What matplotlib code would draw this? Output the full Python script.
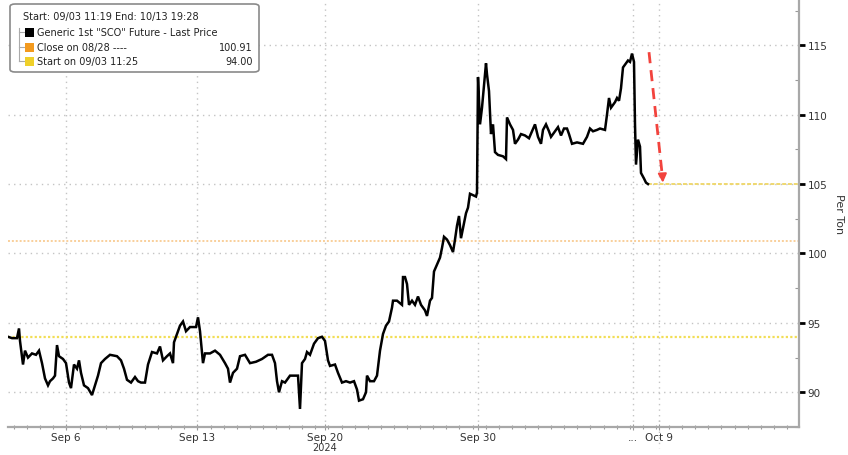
import matplotlib
matplotlib.use("Agg")
import matplotlib.pyplot as plt
from matplotlib.patches import FancyBboxPatch, Rectangle
from matplotlib.lines import Line2D
import numpy as np

# ---- data: intraday bar index vs price ----
bar = [0, 4, 9, 11, 12, 15, 17, 20, 24, 28, 31, 34, 37, 40, 42, 45, 47, 49, 51, 55,
       58, 61, 63, 66, 69, 71, 73, 76, 80, 84, 87, 90, 93, 97, 102, 109, 113, 116, 119,
       123, 127, 130, 133, 137, 140, 144, 149, 152, 155, 159, 162, 165, 166, 169, 172,
       175, 178, 182, 188, 190, 192, 195, 197, 202, 207, 212, 217, 220, 222, 225, 229,
       232, 237, 242, 248, 254, 260, 264, 267, 269, 271, 274, 277, 282, 287, 290, 292,
       294, 297, 299, 302, 306, 310, 314, 317, 319, 320, 322, 327, 330, 334, 338, 342,
       346, 349, 351, 355, 358, 359, 362, 366, 369, 372, 375, 378, 381, 384, 385, 389,
       394, 395, 397, 399, 401, 404, 407, 410, 413, 417, 419, 422, 424, 426, 429, 432,
       434, 436, 439, 442, 445, 447, 449, 451, 453, 456, 458, 460, 462, 465, 468, 469,
       470, 472, 474, 476, 478, 479, 481, 483, 485, 487, 490, 495, 498, 499, 502, 505,
       507, 510, 513, 517, 521, 524, 527, 530, 533, 535, 538, 541, 543, 547, 550, 553,
       556, 559, 561, 564, 569, 575, 579, 582, 585, 589, 592, 597, 599, 601, 603, 605,
       607, 609, 611, 613, 615, 618, 620, 622, 624, 626, 627, 628, 630, 632, 633, 636,
       638, 640]
price = [94.0, 93.9, 93.9, 94.6, 93.7, 92.0, 93.0, 92.5, 92.8, 92.7, 93.0, 92.1, 91.0,
         90.5, 90.8, 91.0, 91.2, 93.4, 92.6, 92.4, 92.1, 90.7, 90.3, 92.0, 91.7, 92.3,
         91.4, 90.5, 90.3, 89.8, 90.5, 91.2, 92.1, 92.4, 92.7, 92.6, 92.3, 91.7, 90.9,
         90.7, 91.1, 90.8, 90.7, 90.7, 92.0, 92.9, 92.8, 93.3, 92.3, 92.6, 92.8, 92.1,
         93.6, 94.2, 94.8, 95.1, 94.4, 94.7, 94.7, 95.4, 94.4, 92.1, 92.8, 92.8, 93.0,
         92.7, 92.1, 91.7, 90.7, 91.4, 91.7, 92.6, 92.7, 92.1, 92.2, 92.4, 92.7, 92.7,
         92.1, 90.8, 90.0, 90.8, 90.7, 91.2, 91.2, 91.2, 88.8, 92.1, 92.4, 92.9, 92.7,
         93.5, 93.9, 94.0, 93.7, 92.8, 92.3, 91.9, 92.0, 91.4, 90.7, 90.8, 90.7, 90.8,
         90.2, 89.4, 89.5, 90.0, 91.2, 90.8, 90.8, 91.2, 93.0, 94.2, 94.8, 95.1, 96.1,
         96.6, 96.6, 96.3, 98.3, 98.3, 97.8, 96.3, 96.6, 96.3, 96.9, 96.3, 95.9, 95.5,
         96.6, 96.8, 98.7, 99.2, 99.7, 100.4, 101.2, 101.0, 100.6, 100.1, 101.0, 102.0,
         102.7, 101.1, 102.2, 102.9, 103.3, 104.3, 104.2, 104.1, 104.4, 112.7, 109.3,
         110.5, 112.1, 113.7, 112.9, 111.7, 108.6, 109.3, 107.3, 107.1, 107.0, 106.8,
         109.8, 109.3, 108.9, 107.9, 108.2, 108.6, 108.5, 108.3, 108.8, 109.3, 108.4,
         107.9, 108.9, 109.3, 108.8, 108.4, 108.8, 109.1, 108.5, 109.0, 109.0, 108.6,
         107.9, 108.0, 107.9, 108.4, 109.0, 108.8, 108.9, 109.0, 108.9, 110.0, 111.2,
         110.5, 110.7, 110.9, 111.2, 111.0, 111.9, 113.4, 113.7, 113.9, 113.8, 114.4,
         113.8, 109.3, 106.4, 108.2, 107.7, 105.8, 105.4, 105.1, 105.0]

close_0828 = 100.91
start_0903 = 94.00
last_price = 105.0
arrow_from = (641, 114.5)
arrow_to = (655, 104.9)

tick_bars = [58, 189, 317, 470, 625, 651]
tick_labels = ["Sep 6", "Sep 13", "Sep 20", "Sep 30", "...", "Oct 9"]
year_label = "2024"
y_ticks = [90, 95, 100, 105, 110, 115]

legend_title = "Start: 09/03 11:19 End: 10/13 19:28"
legend_rows = [('Generic 1st "SCO" Future - Last Price', "", "#000000"),
               ("Close on 08/28 ----", "100.91", "#F39A1E"),
               ("Start on 09/03 11:25", "94.00", "#EFD02A")]

W, H = 848, 456
fig = plt.figure(figsize=(W / 100, H / 100), dpi=100)
ax = fig.add_axes([8 / W, 28 / H, 791 / W, 428 / H])
ax.set_xlim(0, 791)
ax.set_ylim(87.98, 118.33)

dot = (0, (1, 3))
for yv in y_ticks:
    ax.axhline(yv, color="#c4c4c4", lw=1.0, ls=dot, zorder=1)
for xv in tick_bars:
    ax.axvline(xv, color="#c4c4c4", lw=1.0, ls=dot, zorder=1)

ax.axhline(close_0828, color="#F9CF9A", lw=1.4, ls=(0, (1, 1)), zorder=2)
ax.axhline(start_0903, color="#F2DE55", lw=1.6, ls=(0, (1, 1)), zorder=2)
ax.plot([bar[-1], 791], [last_price, last_price], color="#EFD870", lw=1.4,
        ls=(0, (2, 1)), zorder=2)

ax.plot(bar, price, color="black", lw=1.8, zorder=4, solid_joinstyle="miter")

# red dashed arrow
ax.plot([arrow_from[0], arrow_to[0] - 0.4], [arrow_from[1], arrow_to[1] + 0.5],
        color="#F2433D", lw=2.0, ls=(0, (4, 2.5)), zorder=5)
ax.annotate("", xy=arrow_to, xytext=(arrow_to[0] - 0.6, arrow_to[1] + 0.8),
            arrowprops=dict(arrowstyle="-|>,head_length=0.5,head_width=0.25",
                            color="#F2433D", lw=1.5), zorder=5)

for s in ["top", "left"]:
    ax.spines[s].set_visible(False)
ax.spines["right"].set_color("#a8a8a8")
ax.spines["right"].set_linewidth(1.6)
ax.spines["bottom"].set_color("#a8a8a8")
ax.spines["bottom"].set_linewidth(1.6)

ax.yaxis.tick_right()
ax.set_yticks(y_ticks)
ax.set_yticklabels([str(v) for v in y_ticks])
ax.set_yticks(np.arange(87.5, 118.3, 2.5), minor=True)
ax.tick_params(axis="y", which="major", direction="out", length=4, width=2,
               color="black", labelsize=7.5, labelcolor="#333333", pad=2)
ax.tick_params(axis="y", which="minor", direction="in", length=3, width=0.8,
               color="#999999")
ax.yaxis.set_label_position("right")
ax.set_ylabel("Per Ton", rotation=270, labelpad=12, fontsize=8, color="#333333")

ax.set_xticks(tick_bars)
ax.set_xticklabels(tick_labels)
ax.set_xticks(np.arange(6, 791, 13.1), minor=True)
ax.tick_params(axis="x", which="major", direction="inout", length=5, width=0.8,
               color="#999999", labelsize=7.5, labelcolor="#333333", pad=1)
ax.tick_params(axis="x", which="minor", direction="inout", length=3, width=0.8,
               color="#999999")
ax.text(tick_bars[2], -20 / 428, year_label, transform=ax.get_xaxis_transform(),
        ha="center", va="center", fontsize=7, color="#333333")
ax.plot([tick_bars[5], tick_bars[5]], [87.98, 86.0], color="#c4c4c4", lw=1.0,
        ls=dot, clip_on=False)

# legend box (figure pixel coordinates -> fractions)
def fx(x):
    return x / W

def fy(y):
    return 1 - y / H

box = FancyBboxPatch((fx(10), fy(73)), fx(249), 68 / H,
                     boxstyle="round,pad=0,rounding_size=0.006",
                     transform=fig.transFigure, facecolor="white",
                     edgecolor="#8a8a8a", lw=1.2, zorder=10)
fig.patches.append(box)
fig.text(fx(23), fy(17), legend_title, fontsize=7, color="#222222",
         va="center", ha="left", zorder=11)
row_y = [33, 48, 62]
fig.lines.append(Line2D([fx(19), fx(19)], [fy(29), fy(62)], color="#aaaaaa",
                        lw=0.8, transform=fig.transFigure, zorder=11))
for (lab, val, col), yy in zip(legend_rows, row_y):
    fig.lines.append(Line2D([fx(19), fx(24)], [fy(yy), fy(yy)], color="#aaaaaa",
                            lw=0.8, transform=fig.transFigure, zorder=11))
    fig.patches.append(Rectangle((fx(25), fy(yy + 4.5)), fx(9), 9 / H,
                                 transform=fig.transFigure, facecolor=col,
                                 edgecolor="none", zorder=11))
    fig.text(fx(37), fy(yy), lab, fontsize=7, color="#222222", va="center",
             ha="left", zorder=11)
    if val:
        fig.text(fx(253), fy(yy), val, fontsize=7, color="#222222",
                 va="center", ha="right", zorder=11)

fig.savefig("out.png", dpi=100)
